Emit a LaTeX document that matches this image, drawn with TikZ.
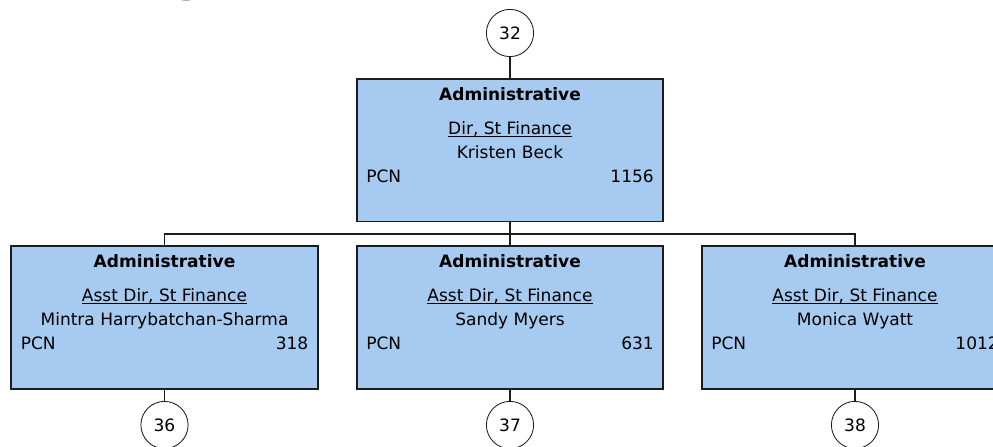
\documentclass[tikz,border=0pt]{standalone}
\usepackage{fontspec}
\setmainfont{DejaVu Sans}
\usepackage{xcolor}
\usepackage{tikz}
\usetikzlibrary{calc,positioning}
\definecolor{OCBlue}{HTML}{A6CAF0}
\definecolor{OCEdge}{HTML}{1C1C1C}
\newcommand\cardsize{\fontsize{12.1pt}{14.5pt}\selectfont}
\newcommand\posttitle[1]{\underline{\smash{#1}}}
\tikzset{
  card/.style={draw=OCEdge,fill=OCBlue,line width=1.4pt,
    minimum width=7.65cm,minimum height=3.55cm,inner sep=0pt},
  tag/.style={draw=OCEdge,fill=white,circle,line width=0.6pt,
    minimum size=1.18cm,inner sep=0pt,font=\cardsize},
  link/.style={draw=OCEdge,line width=1.4pt},
  cardline/.style={anchor=base,inner sep=0pt,font=\cardsize},
  cardhead/.style={cardline,font=\cardsize\bfseries},
}

\begin{document}
\begin{tikzpicture}[x=0.025cm,y=0.025cm,line cap=butt]
  \path[use as bounding box] (0,0) rectangle (993,447);
  \clip (0,0) rectangle (993,447);

  % tail of the page title, cut by the top edge
  \node[anchor=south,inner sep=0pt,font=\fontsize{44pt}{50pt}\selectfont\bfseries]
    (ttl) at (190,445.4) {g};

  % director
  \node[tag] (c32) at (510,414) {32};
  \node[card] (dir) at (510,296.5) {};
  \node[cardhead] (dir-head) at ($(dir.north)+(0,-22.5)$) {Administrative};
  \node[cardline] (dir-post) at ($(dir.north)+(0,-56)$) {\posttitle{Dir, St Finance}};
  \node[cardline] (dir-name) at ($(dir.north)+(0,-80)$) {Kristen Beck};
  \node[cardline,anchor=base west] (dir-pcn) at ($(dir.north west)+(10,-104)$) {PCN};
  \node[cardline,anchor=base east] (dir-num) at ($(dir.north east)+(-10,-104)$) {1156};

  % assistant directors
  \node[card] (asstA) at (164.5,129.5) {};
  \node[cardhead] (asstA-head) at ($(asstA.north)+(0,-22.5)$) {Administrative};
  \node[cardline] (asstA-post) at ($(asstA.north)+(0,-56)$) {\posttitle{Asst Dir, St Finance}};
  \node[cardline] (asstA-name) at ($(asstA.north)+(0,-80)$) {Mintra Harrybatchan-Sharma};
  \node[cardline,anchor=base west] (asstA-pcn) at ($(asstA.north west)+(10,-104)$) {PCN};
  \node[cardline,anchor=base east] (asstA-num) at ($(asstA.north east)+(-10,-104)$) {318};

  \node[card] (asstB) at (510,129.5) {};
  \node[cardhead] (asstB-head) at ($(asstB.north)+(0,-22.5)$) {Administrative};
  \node[cardline] (asstB-post) at ($(asstB.north)+(0,-56)$) {\posttitle{Asst Dir, St Finance}};
  \node[cardline] (asstB-name) at ($(asstB.north)+(0,-80)$) {Sandy Myers};
  \node[cardline,anchor=base west] (asstB-pcn) at ($(asstB.north west)+(10,-104)$) {PCN};
  \node[cardline,anchor=base east] (asstB-num) at ($(asstB.north east)+(-10,-104)$) {631};

  \node[card] (asstC) at (855,129.5) {};
  \node[cardhead] (asstC-head) at ($(asstC.north)+(0,-22.5)$) {Administrative};
  \node[cardline] (asstC-post) at ($(asstC.north)+(0,-56)$) {\posttitle{Asst Dir, St Finance}};
  \node[cardline] (asstC-name) at ($(asstC.north)+(0,-80)$) {Monica Wyatt};
  \node[cardline,anchor=base west] (asstC-pcn) at ($(asstC.north west)+(10,-104)$) {PCN};
  \node[cardline,anchor=base east] (asstC-num) at ($(asstC.north east)+(-10,-104)$) {1012};

  % off-page references below
  \node[tag] (c36) at (164.5,22) {36};
  \node[tag] (c37) at (510,22) {37};
  \node[tag] (c38) at (855,22) {38};

  % connectors
  \coordinate (bus) at (510,213);
  \draw[link] (c32) -- (dir);
  \draw[link] (dir) -- (bus);
  \draw[link] (asstA.north) |- (bus) -| (asstC.north);
  \draw[link] (bus) -- (asstB.north);
  \draw[link] (asstA) -- (c36);
  \draw[link] (asstB) -- (c37);
  \draw[link] (asstC) -- (c38);
\end{tikzpicture}
\end{document}
